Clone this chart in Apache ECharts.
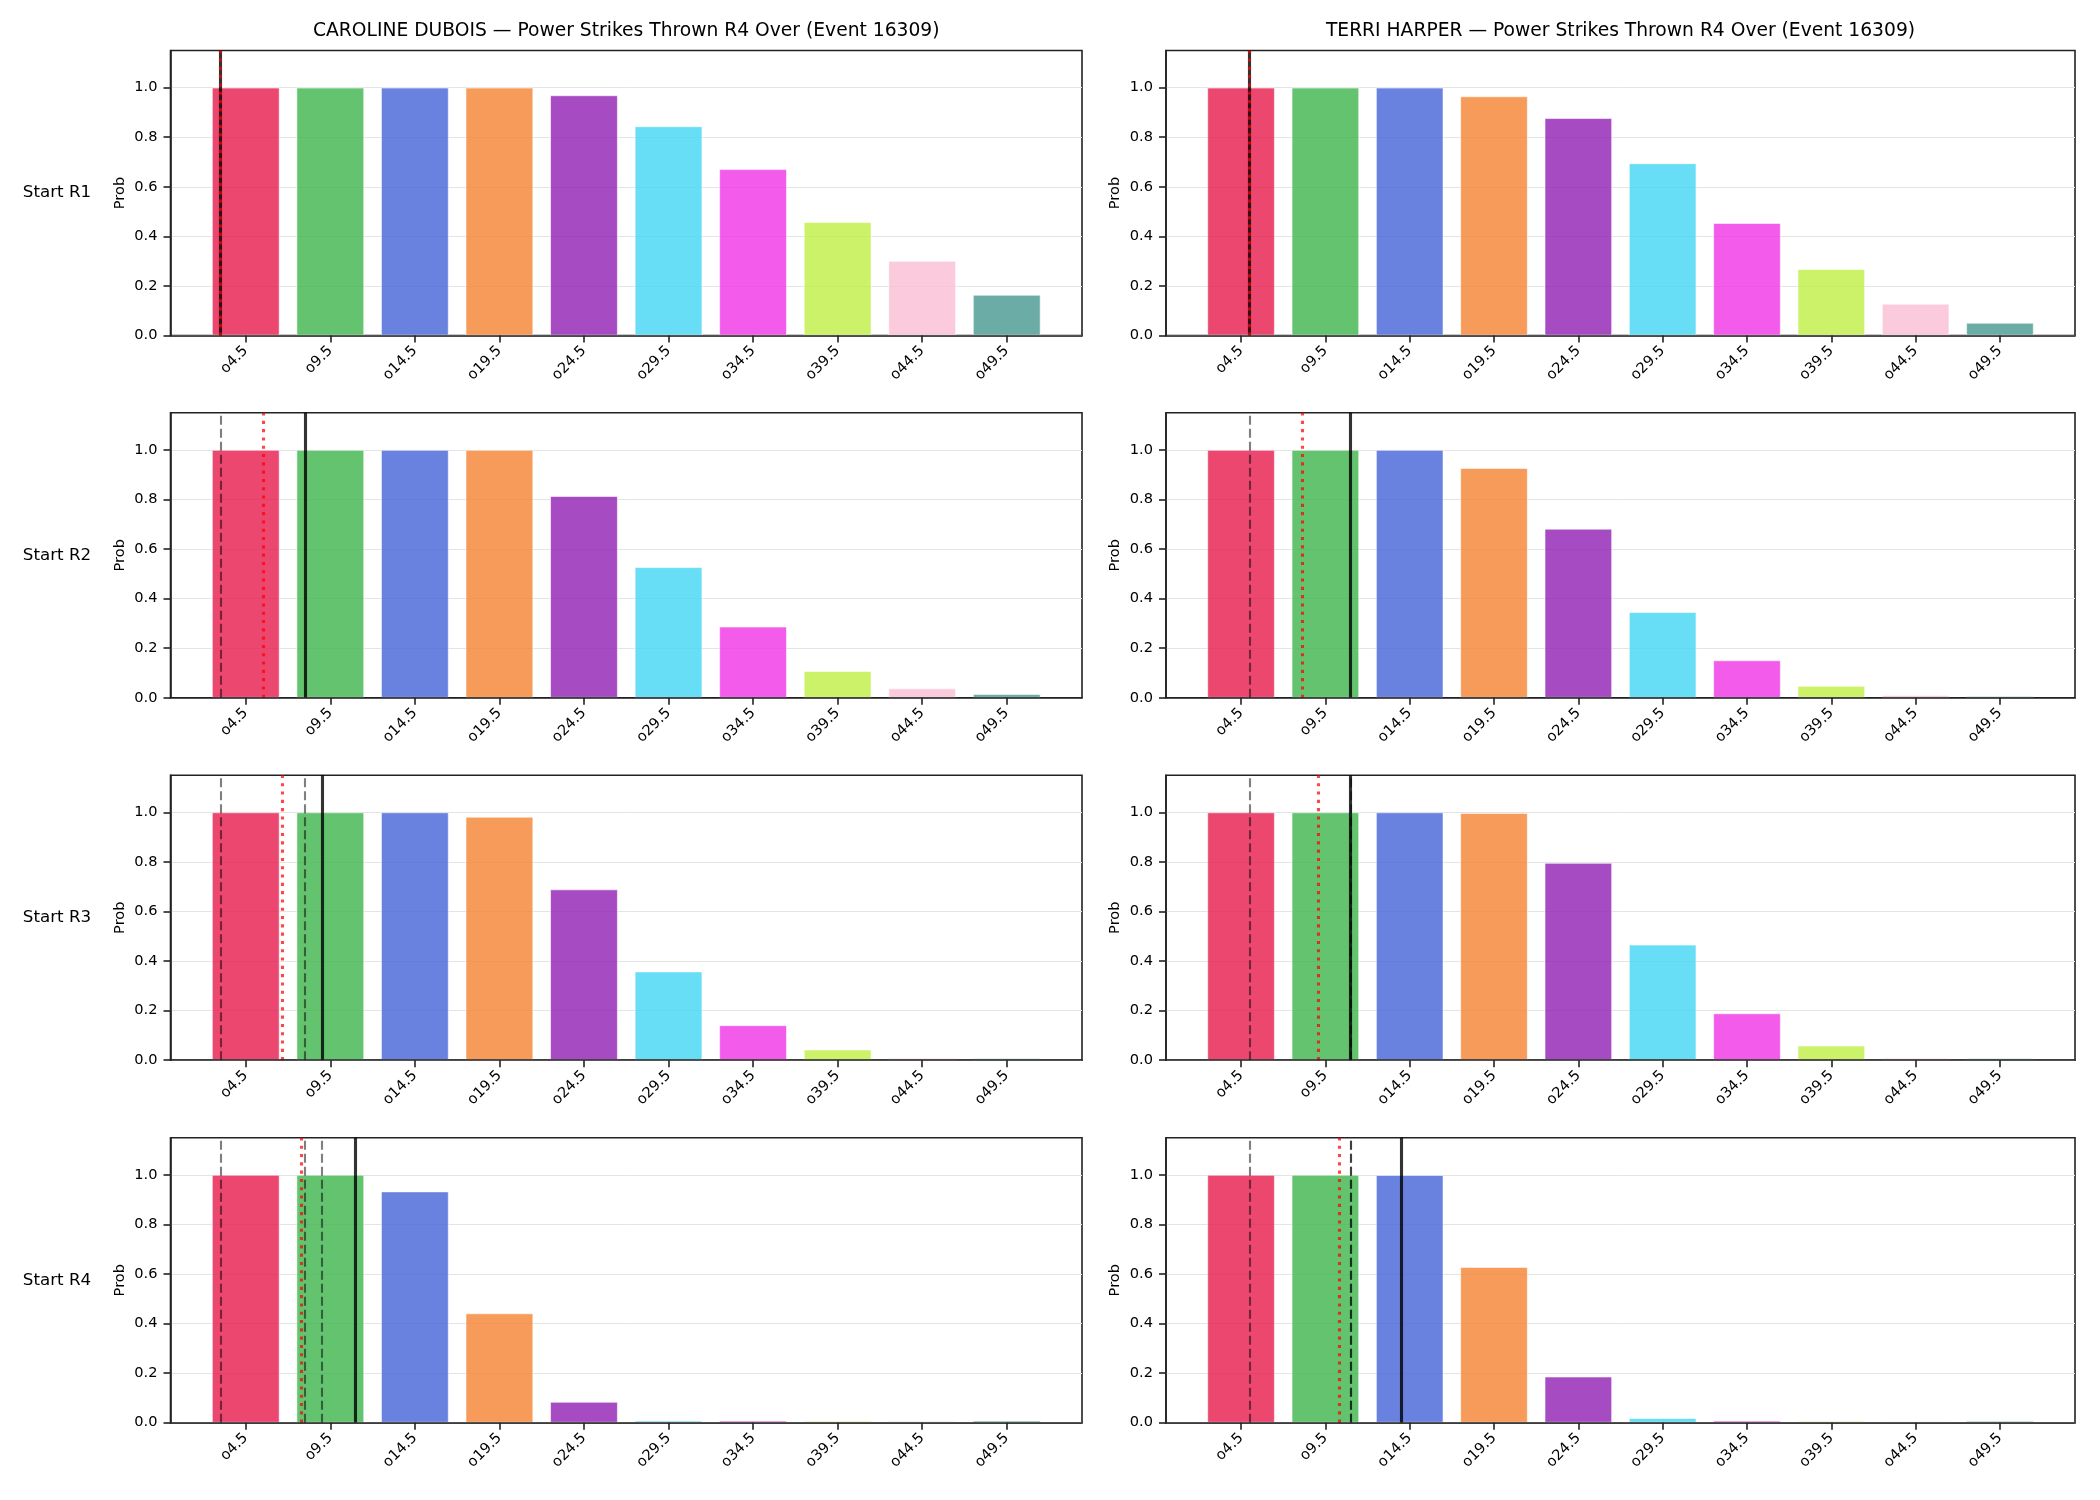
<!DOCTYPE html>
<html>
<head>
<meta charset="utf-8">
<title>Power Strikes Thrown R4 Over</title>
<script src="https://cdn.jsdelivr.net/npm/echarts@6/dist/echarts.min.js"></script>
<style>
  html, body { margin: 0; padding: 0; background: #fff; }
  #chart { width: 2100px; height: 1500px; }
</style>
</head>
<body>
<div id="chart"></div>
<script>
var fighters = ['CAROLINE DUBOIS', 'TERRI HARPER'];
var eventId = 16309;
var rounds = ['Start R1', 'Start R2', 'Start R3', 'Start R4'];
var lineLabels = ['o4.5', 'o9.5', 'o14.5', 'o19.5', 'o24.5', 'o29.5', 'o34.5', 'o39.5', 'o44.5', 'o49.5'];
var barColors = ['#e6194B', '#3cb44b', '#4363d8', '#f58231', '#911eb4', '#42d4f4', '#f032e6', '#bfef45', '#fabed4', '#469990'];
var yTicks = [0, 0.2, 0.4, 0.6, 0.8, 1.0];

// P(over line) for each starting round
var duboisProbs = [
  [1.0, 1.0, 1.0, 1.0, 0.969, 0.844, 0.671, 0.458, 0.301, 0.164],
  [1.0, 1.0, 1.0, 1.0, 0.814, 0.527, 0.287, 0.108, 0.038, 0.015],
  [1.0, 1.0, 1.0, 0.982, 0.689, 0.358, 0.141, 0.043, 0.009, 0.007],
  [1.0, 1.0, 0.933, 0.441, 0.084, 0.008, 0.008, 0.007, 0.006, 0.008]
];
var harperProbs = [
  [1.0, 1.0, 1.0, 0.965, 0.877, 0.695, 0.454, 0.268, 0.128, 0.051],
  [1.0, 1.0, 1.0, 0.927, 0.682, 0.346, 0.151, 0.048, 0.011, 0.007],
  [1.0, 1.0, 1.0, 0.997, 0.796, 0.466, 0.189, 0.059, 0.009, 0.007],
  [1.0, 1.0, 0.999, 0.628, 0.186, 0.019, 0.008, 0.006, 0.005, 0.007]
];

// strikes thrown when each round starts (black = current, dashed = earlier rounds)
var duboisAtStart = [3, 8, 9, 11];
var harperAtStart = [5, 11, 11, 14];
// projected pace (red dotted)
var duboisPace = [3, 5.55, 6.67, 7.8];
var harperPace = [5, 8.1, 9.1, 10.35];

var probs = [duboisProbs, harperProbs];
var atStart = [duboisAtStart, harperAtStart];
var pace = [duboisPace, harperPace];

// layout
var FONT = 'DejaVu Sans';
var gridLeft = [170.5, 1166];
var gridWidth = [911.5, 909];
var gridTop = [50.5, 412.8, 775.2, 1137.7];
var gridHeight = 285;
var yMax = 1.15;

var centers = lineLabels.map(function (l) { return parseFloat(l.slice(1)); });
var step = centers[1] - centers[0];
var lo = centers[0] - 0.4 * step, hi = centers[centers.length - 1] + 0.4 * step;
var pad = 0.05 * (hi - lo);
var xMin = lo - pad, xMax = hi + pad;

function rgba(hex, a) {
  var n = parseInt(hex.slice(1), 16);
  return 'rgba(' + ((n >> 16) & 255) + ',' + ((n >> 8) & 255) + ',' + (n & 255) + ',' + a + ')';
}

var grids = [], xAxes = [], yAxes = [], series = [], graphics = [];

for (var r = 0; r < rounds.length; r++) {
  for (var f = 0; f < fighters.length; f++) {
    var k = grids.length;
    grids.push({
      left: gridLeft[f], top: gridTop[r], width: gridWidth[f], height: gridHeight,
      show: true, borderColor: '#222', borderWidth: 1.6, backgroundColor: 'transparent',
      containLabel: false, outerBoundsMode: 'none'
    });
    xAxes.push({
      type: 'value', gridIndex: k, min: xMin, max: xMax, z: 5,
      axisLine: { show: true, onZero: false, lineStyle: { color: '#222', width: 1.6 } },
      axisTick: { show: true, length: 7, customValues: centers, lineStyle: { color: '#222', width: 1.6 } },
      axisLabel: {
        show: true, rotate: 45, margin: 13, customValues: centers,
        fontFamily: FONT, fontSize: 14.6, color: '#000',
        formatter: function (v) {
          for (var i = 0; i < centers.length; i++) if (Math.abs(centers[i] - v) < 1e-6) return lineLabels[i];
          return '';
        }
      },
      splitLine: { show: false }
    });
    yAxes.push({
      type: 'value', gridIndex: k, min: 0, max: yMax, interval: 0.2,
      name: 'Prob', nameLocation: 'middle', nameGap: 43,
      nameTextStyle: { fontFamily: FONT, fontSize: 14.6, color: '#000' },
      axisLine: { show: true, lineStyle: { color: '#222', width: 1.6 } },
      axisTick: { show: true, length: 7, customValues: yTicks, lineStyle: { color: '#222', width: 1.6 } },
      axisLabel: {
        show: true, margin: 13, customValues: yTicks,
        fontFamily: FONT, fontSize: 14.6, color: '#000',
        formatter: function (v) { return v.toFixed(1); }
      },
      splitLine: { show: true, lineStyle: { color: '#e4e4e4', width: 1 } }
    });

    var marks = [];
    for (var p = 0; p < r; p++) {
      marks.push({ xAxis: atStart[f][p], lineStyle: { color: 'rgba(0,0,0,0.5)', width: 2.1, type: [9, 4] } });
    }
    marks.push({ xAxis: atStart[f][r], lineStyle: { color: 'rgba(0,0,0,0.8)', width: 3.1, type: 'solid' } });
    marks.push({ xAxis: pace[f][r], lineStyle: { color: 'rgba(255,0,0,0.72)', width: 3.1, type: [3.1, 5.2] } });

    series.push({
      type: 'bar', xAxisIndex: k, yAxisIndex: k, barWidth: '80%',
      data: centers.map(function (c, i) {
        return { value: [c, probs[f][r][i]], itemStyle: { color: rgba(barColors[i], 0.8) } };
      }),
      itemStyle: { borderColor: 'rgba(255,255,255,0.7)', borderWidth: 0.8 },
      markLine: {
        silent: true, symbol: ['none', 'none'], label: { show: false },
        emphasis: { disabled: true }, data: marks
      }
    });
  }
  graphics.push({
    type: 'text', x: 57, y: gridTop[r] + gridHeight / 2,
    style: { text: rounds[r], align: 'center', verticalAlign: 'middle', fontFamily: FONT, fontSize: 16.7, fill: '#000' }
  });
}

var titles = fighters.map(function (name, f) {
  return {
    text: name + ' \u2014 Power Strikes Thrown R4 Over (Event ' + eventId + ')',
    left: gridLeft[f] + gridWidth[f] / 2, top: 22, textAlign: 'center', padding: 0,
    textStyle: { fontFamily: FONT, fontSize: 18.7, fontWeight: 'normal', color: '#000' }
  };
});

var chart = echarts.init(document.getElementById('chart'));
chart.setOption({
  animation: false,
  backgroundColor: '#fff',
  title: titles,
  grid: grids,
  xAxis: xAxes,
  yAxis: yAxes,
  series: series,
  graphic: graphics
});
</script>
</body>
</html>
